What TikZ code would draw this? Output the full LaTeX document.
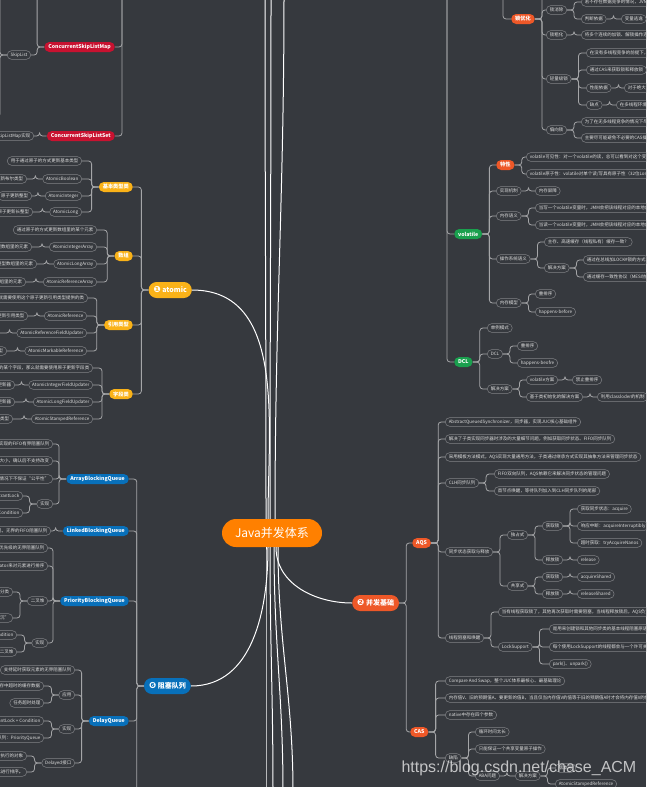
\documentclass[tikz,border=0pt]{standalone}
\usepackage{fontspec}
\setmainfont{Noto Sans CJK SC}
\newfontfamily\symfont{DejaVu Sans}
\newfontfamily\wmfont{Liberation Sans}
\usetikzlibrary{positioning}
\definecolor{bgdark}{RGB}{54,57,62}
\definecolor{linegray}{RGB}{165,166,168}
\definecolor{leafline}{RGB}{128,130,134}
\definecolor{leaftext}{RGB}{222,222,222}
\definecolor{atomicyellow}{RGB}{250,178,24}
\definecolor{queueblue}{RGB}{8,112,186}
\definecolor{basered}{RGB}{238,88,40}
\definecolor{volgreen}{RGB}{26,160,78}
\definecolor{listred}{RGB}{200,18,48}
\definecolor{rootorange}{RGB}{255,128,0}

\begin{document}
\begin{tikzpicture}[x=1pt,y=-1pt,
  leaf/.style={draw=leafline,line width=0.5pt,fill=bgdark,text=leaftext,rounded corners=4.3pt,minimum height=8.6pt,inner xsep=3.5pt,inner ysep=0pt,font=\fontsize{4.5}{5}\selectfont},
  sub/.style={fill=#1,text=white,rounded corners=5pt,minimum height=10pt,inner xsep=4pt,inner ysep=0pt,font=\fontsize{5.2}{6}\selectfont\bfseries},
  topic/.style={fill=#1,text=white,rounded corners=8pt,minimum height=16pt,inner xsep=5pt,inner ysep=0pt,font=\fontsize{7}{8}\selectfont\bfseries},
  conn/.style={draw=linegray,line width=0.8pt,rounded corners=3pt},
  trunk/.style={draw=white,line width=1pt}
]
\useasboundingbox (0,0) rectangle (646,787);
\fill[bgdark] (0,0) rectangle (646,787);
\clip (0,0) rectangle (646,787);

% centre
\node[fill=rootorange,text=white,rounded corners=14pt,minimum height=28pt,minimum width=100pt,font=\fontsize{12}{14}\selectfont] (java) at (272,533) {Java并发体系};

% main topics
\node[topic=atomicyellow,anchor=east] (atomic) at (192,290) {{\symfont\fontsize{8.5}{8}\selectfont ❶}\ atomic};
\node[topic=queueblue,anchor=east] (queue) at (191,686) {{\symfont\fontsize{8.5}{8}\selectfont ❻}\ 阻塞队列};
\node[topic=basered,anchor=west] (base) at (352,603) {{\symfont\fontsize{8.5}{8}\selectfont ❷}\ 并发基础};

% off-canvas ends
\coordinate (up1) at (265,-5);
\coordinate (up2) at (271,-5);
\coordinate (up3) at (284,-5);
\coordinate (dn1) at (266,792);
\coordinate (dn2) at (273,792);
\coordinate (dn3) at (283,792);
\coordinate (dn4) at (293,792);
\coordinate (cslmtop) at (30,-20);
\coordinate (sltop) at (-20,-20);
\coordinate (slbot) at (-20,117);
\coordinate (skiptop) at (122,-20);
\coordinate (volp) at (447,-20);
\coordinate (lockp) at (503,-20);
\coordinate (lockc) at (560,-20);
\coordinate (qbot) at (129,800);

% top left: ConcurrentSkipList*
\node[sub=listred,anchor=east] (cslm) at (115,47) {ConcurrentSkipListMap};
\node[leaf,anchor=east] (skiplist) at (31,55) {SkipList};
\node[sub=listred,anchor=east] (csls) at (115,136) {ConcurrentSkipListSet};
\node[leaf,anchor=east] (cslsimpl) at (34,136) {内部基于ConcurrentSkipListMap实现};

% atomic
\node[sub=atomicyellow,anchor=east] (basic) at (133,187) {基本类型类};
\node[sub=atomicyellow,anchor=east] (arr) at (133,256) {数组};
\node[sub=atomicyellow,anchor=east] (ref) at (133,325) {引用类型};
\node[sub=atomicyellow,anchor=east] (field) at (133,394) {字段类};

\node[leaf,anchor=east] (basic1) at (82,161) {用于通过原子的方式更新基本类型};
\node[leaf,anchor=east] (abool) at (82,179) {AtomicBoolean};
\node[leaf,anchor=east] (aint) at (82,196) {AtomicInteger};
\node[leaf,anchor=east] (along) at (82,212) {AtomicLong};
\node[leaf,anchor=east] (abool1) at (27,179) {原子更新布尔类型};
\node[leaf,anchor=east] (aint1) at (32,196) {原子更新整型};
\node[leaf,anchor=east] (along1) at (33,212) {原子更新长整型};

\node[leaf,anchor=east] (arr1) at (97,230) {通过原子的方式更新数组里的某个元素};
\node[leaf,anchor=east] (aia) at (97,247) {AtomicIntegerArray};
\node[leaf,anchor=east] (ala) at (97,264) {AtomicLongArray};
\node[leaf,anchor=east] (ara) at (97,282) {AtomicReferenceArray};
\node[leaf,anchor=east] (aia1) at (32,247) {原子更新整型数组里的元素};
\node[leaf,anchor=east] (ala1) at (37,264) {原子更新长整型数组里的元素};
\node[leaf,anchor=east] (ara1) at (26,282) {原子更新引用类型数组里的元素};

\node[leaf,anchor=east] (ref1) at (88,298) {如果要原子的更新多个变量，就需要使用这个原子更新引用类型提供的类};
\node[leaf,anchor=east] (aref) at (87,316) {AtomicReference};
\node[leaf,anchor=east] (arfu) at (87,333) {AtomicReferenceFieldUpdater};
\node[leaf,anchor=east] (amr) at (87,351) {AtomicMarkableReference};
\node[leaf,anchor=east] (aref1) at (28,316) {原子更新引用类型};
\node[leaf,anchor=east] (arfu1) at (-2,333) {原子更新引用类型里的字段};
\node[leaf,anchor=east] (amr1) at (7,351) {原子更新带有标记位的引用类型};

\node[leaf,anchor=east] (field1) at (93,368) {如果需要原子地更新某个类里的某个字段，那么就需要使用原子更新字段类};
\node[leaf,anchor=east] (aifu) at (93,385) {AtomicIntegerFieldUpdater};
\node[leaf,anchor=east] (alfu) at (93,402) {AtomicLongFieldUpdater};
\node[leaf,anchor=east] (asr) at (93,419) {AtomicStampedReference};
\node[leaf,anchor=east] (aifu1) at (15,385) {原子更新整型的字段的更新器};
\node[leaf,anchor=east] (alfu1) at (15,402) {原子更新长整型字段的更新器};
\node[leaf,anchor=east] (asr1) at (13,419) {原子更新带有版本号的引用类型};

% blocking queues
\node[sub=queueblue,anchor=east] (abq) at (129,479) {ArrayBlockingQueue};
\node[sub=queueblue,anchor=east] (lbq) at (129,531) {LinkedBlockingQueue};
\node[sub=queueblue,anchor=east] (pbq) at (129,601) {PriorityBlockingQueue};
\node[sub=queueblue,anchor=east] (dq) at (129,721) {DelayQueue};

\node[leaf,anchor=east] (abq1) at (53,444) {一个由数组实现的FIFO有界阻塞队列};
\node[leaf,anchor=east] (abq2) at (53,461) {有界且固定，在构造时确定大小，确认后不支持改变};
\node[leaf,anchor=east] (abq3) at (53,479) {支持公平锁和非公平锁，默认情况下不保证“公平性”};
\node[leaf,anchor=east] (abqimpl) at (53,504) {实现};
\node[leaf,anchor=east] (abqlock) at (23,496) {ReentrantLock};
\node[leaf,anchor=east] (abqcond) at (23,513) {Condition};
\node[leaf,anchor=east] (lbq1) at (51,531) {基于链表实现，无界的FIFO阻塞队列};
\node[leaf,anchor=east] (pbq1) at (48,548) {一个支持优先级的无界阻塞队列};
\node[leaf,anchor=east] (pbq2) at (48,566) {默认自然升序排序，也可以通过构造函数指定Comparator来对元素进行排序};
\node[leaf,anchor=east] (heap) at (48,601) {二叉堆};
\node[leaf,anchor=east] (heap1) at (13,592) {最大堆和最小堆两种分类};
\node[leaf,anchor=east] (heap2) at (13,618) {添加操作“上冒”，删除操作“下沉”};
\node[leaf,anchor=east] (pbqimpl) at (48,643) {实现};
\node[leaf,anchor=east] (pbqlock) at (17,635) {ReentrantLock + Condition};
\node[leaf,anchor=east] (pbqheap) at (17,652) {二叉堆};
\node[leaf,anchor=east] (dq1) at (75,670) {支持延时获取元素的无界阻塞队列};
\node[leaf,anchor=east] (dquse) at (75,695) {应用};
\node[leaf,anchor=east] (dquse1) at (44,686) {缓存：清掉缓存中超时的缓存数据};
\node[leaf,anchor=east] (dquse2) at (44,703) {任务超时处理};
\node[leaf,anchor=east] (dqimpl) at (75,729) {实现};
\node[leaf,anchor=east] (dqlock) at (44,721) {ReentrantLock + Condition};
\node[leaf,anchor=east] (dqpq) at (44,738) {根据Delay时间排序的优先级队列：PriorityQueue};
\node[leaf,anchor=east] (dqif) at (75,763) {Delayed接口};
\node[leaf,anchor=east] (dqif1) at (27,756) {用来标记那些应该在给定延迟时间之后执行的对象};
\node[leaf,anchor=east] (dqif2) at (27,772) {该接口要求实现compareTo方法，以此进行排序。};

% lock optimisation (top right)
\node[sub=basered,anchor=west] (lockopt) at (511,19) {锁优化};
\node[leaf,anchor=west] (elim) at (546,10) {锁消除};
\node[leaf,anchor=west] (elim1) at (581,2) {若不存在数据竞争的情况，JVM会消除锁机制};
\node[leaf,anchor=west] (elim2) at (581,19) {判断依据};
\node[leaf,anchor=west] (elim3) at (621,19) {变量逃逸};
\node[leaf,anchor=west] (coarse) at (546,35) {锁粗化};
\node[leaf,anchor=west] (coarse1) at (581,35) {将多个连续的加锁、解锁操作连接在一起，扩展成一个范围更大的锁};
\node[leaf,anchor=west] (light) at (546,79) {轻量级锁};
\node[leaf,anchor=west] (light1) at (586,53) {在没有多线程竞争的前提下，减少传统的重量级锁使用操作系统互斥量产生的性能消耗};
\node[leaf,anchor=west] (light2) at (586,70) {通过CAS来获取锁和释放锁};
\node[leaf,anchor=west] (light3) at (586,88) {性能依据};
\node[leaf,anchor=west] (light4) at (624,88) {对于绝大部分的锁，在整个生命周期内都是不会存在竞争的};
\node[leaf,anchor=west] (light5) at (586,105) {缺点};
\node[leaf,anchor=west] (light6) at (616,105) {在多线程环境下，其运行效率比重量级锁还会慢};
\node[leaf,anchor=west] (bias) at (546,130) {偏向锁};
\node[leaf,anchor=west] (bias1) at (581,122) {为了在无多线程竞争的情况下尽量减少不必要的轻量级锁执行路径};
\node[leaf,anchor=west] (bias2) at (581,138) {主要尽可能避免不必要的CAS操作，如果竞争锁失败，则升级为轻量级锁};

% volatile
\node[sub=volgreen,anchor=west] (vol) at (454,234) {volatile};
\node[sub=basered,anchor=west] (vfeat) at (496,165) {特性};
\node[leaf,anchor=west] (vfeat1) at (526,157) {volatile可见性：对一个volatile的读，总可以看到对这个变量最终的写};
\node[leaf,anchor=west] (vfeat2) at (526,174) {volatile原子性：volatile对单个读/写具有原子性（32位Long、Double），但是复合操作除外，例如i++};
\node[leaf,anchor=west] (vmech) at (496,191) {实现机制};
\node[leaf,anchor=west] (vmech1) at (535,191) {内存屏障};
\node[leaf,anchor=west] (vsem) at (496,216) {内存语义};
\node[leaf,anchor=west] (vsem1) at (535,208) {当写一个volatile变量时，JMM会把该线程对应的本地内存中的共享变量值立即刷新到主内存中};
\node[leaf,anchor=west] (vsem2) at (535,225) {当读一个volatile变量时，JMM会把该线程对应的本地内存设置为无效，直接从主内存中读取共享变量};
\node[leaf,anchor=west] (vos) at (496,259) {操作系统语义};
\node[leaf,anchor=west] (vos1) at (544,242) {主存、高速缓存（线程私有）缓存一致？};
\node[leaf,anchor=west] (vos2) at (544,268) {解决方案};
\node[leaf,anchor=west] (vos3) at (583,260) {通过在总线加LOCK\#锁的方式};
\node[leaf,anchor=west] (vos4) at (583,277) {通过缓存一致性协议（MESI协议）};
\node[leaf,anchor=west] (vmod) at (496,303) {内存模型};
\node[leaf,anchor=west] (vmod1) at (535,294) {重排序};
\node[leaf,anchor=west] (vmod2) at (535,312) {happens-before};

% DCL
\node[sub=volgreen,anchor=west] (dcl) at (454,362) {DCL};
\node[leaf,anchor=west] (dcl1) at (487,328) {单例模式};
\node[leaf,anchor=west] (dcl2) at (487,354) {DCL};
\node[leaf,anchor=west] (dcl3) at (517,346) {重排序};
\node[leaf,anchor=west] (dcl4) at (517,363) {happens-beofre};
\node[leaf,anchor=west] (dcl5) at (487,389) {解决方案};
\node[leaf,anchor=west] (dcl6) at (526,380) {volatile方案};
\node[leaf,anchor=west] (dcl7) at (572,380) {禁止重排序};
\node[leaf,anchor=west] (dcl8) at (526,397) {基于类初始化的解决方案};
\node[leaf,anchor=west] (dcl9) at (597,397) {利用classloder的机制};

% AQS
\node[sub=basered,anchor=west] (aqs) at (412,543) {AQS};
\node[leaf,anchor=west] (aqs1) at (445,422) {AbstractQueuedSynchronizer，同步器，实现JUC核心基础组件};
\node[leaf,anchor=west] (aqs2) at (445,439) {解决了子类实现同步器时涉及的大量细节问题，例如获取同步状态、FIFO同步队列};
\node[leaf,anchor=west] (aqs3) at (445,457) {采用模板方法模式，AQS实现大量通用方法，子类通过继承方式实现其抽象方法来管理同步状态};
\node[leaf,anchor=west] (clh) at (445,483) {CLH同步队列};
\node[leaf,anchor=west] (clh1) at (494,474) {FIFO双向队列，AQS依赖它来解决同步状态的管理问题};
\node[leaf,anchor=west] (clh2) at (494,491) {首节点唤醒，等待队列加入到CLH同步队列的尾部};
\node[leaf,anchor=west] (sync) at (445,552) {同步状态获取与释放};
\node[leaf,anchor=west] (excl) at (507,535) {独占式};
\node[leaf,anchor=west] (exget) at (542,526) {获取锁};
\node[leaf,anchor=west] (exget1) at (577,509) {获取同步状态：acquire};
\node[leaf,anchor=west] (exget2) at (577,526) {响应中断：acquireInterruptibly};
\node[leaf,anchor=west] (exget3) at (577,543) {超时获取：tryAcquireNanos};
\node[leaf,anchor=west] (exrel) at (542,560) {释放锁};
\node[leaf,anchor=west] (exrel1) at (577,560) {release};
\node[leaf,anchor=west] (shar) at (507,586) {共享式};
\node[leaf,anchor=west] (shget) at (542,577) {获取锁};
\node[leaf,anchor=west] (shget1) at (577,577) {acquireShared};
\node[leaf,anchor=west] (shrel) at (542,594) {释放锁};
\node[leaf,anchor=west] (shrel1) at (577,594) {releaseShared};
\node[leaf,anchor=west] (block) at (445,638) {线程阻塞和唤醒};
\node[leaf,anchor=west] (block1) at (498,612) {当有线程获取锁了，其他再次获取时需要阻塞，当线程释放锁后，AQS负责唤醒线程};
\node[leaf,anchor=west] (lsup) at (498,647) {LockSupport};
\node[leaf,anchor=west] (lsup1) at (549,629) {是用来创建锁和其他同步类的基本线程阻塞原语};
\node[leaf,anchor=west] (lsup2) at (549,647) {每个使用LockSupport的线程都会与一个许可关联};
\node[leaf,anchor=west] (lsup3) at (549,664) {park()、unpark()};

% CAS
\node[sub=basered,anchor=west] (cas) at (410,732) {CAS};
\node[leaf,anchor=west] (cas1) at (445,681) {Compare And Swap，整个JUC体系最核心、最基础理论};
\node[leaf,anchor=west] (cas2) at (445,698) {内存值V、旧的预期值A、要更新的值B，当且仅当内存值V的值等于旧的预期值A时才会将内存值V的值修改为B，否则什么都不干};
\node[leaf,anchor=west] (cas3) at (445,715) {native中存在四个参数};
\node[leaf,anchor=west] (flaw) at (445,758) {缺陷};
\node[leaf,anchor=west] (flaw1) at (475,732) {循环时间太长};
\node[leaf,anchor=west] (flaw2) at (475,749) {只能保证一个共享变量原子操作};
\node[leaf,anchor=west] (aba) at (475,776) {ABA问题};
\node[leaf,anchor=west] (aba1) at (515,776) {解决方案};
\node[leaf,anchor=west] (aba2) at (555,768) {版本号};
\node[leaf,anchor=west] (aba3) at (555,784) {AtomicStampedReference};

% trunks from the centre
\draw[trunk] ([xshift=-4pt]java.north) to[out=90,in=0] (atomic.east);
\draw[trunk] ([xshift=-4pt]java.south) to[out=-90,in=0] (queue.east);
\draw[trunk] ([xshift=4pt]java.south) to[out=-90,in=180] (base.west);
\foreach \u/\dx in {up1/-6,up2/-2,up3/3}
  \draw[trunk] ([xshift=\dx pt]java.north) to[out=90,in=-90] (\u);
\foreach \u/\dx in {dn1/-6,dn2/-2,dn3/2,dn4/6}
  \draw[trunk] ([xshift=\dx pt]java.south) to[out=-90,in=90] (\u);

% connectors, left side
\foreach \p/\c in {cslm/skiplist,csls/cslsimpl,
  atomic/basic,atomic/arr,atomic/ref,atomic/field,
  basic/basic1,basic/abool,basic/aint,basic/along,abool/abool1,aint/aint1,along/along1,
  arr/arr1,arr/aia,arr/ala,arr/ara,aia/aia1,ala/ala1,ara/ara1,
  ref/ref1,ref/aref,ref/arfu,ref/amr,aref/aref1,arfu/arfu1,amr/amr1,
  field/field1,field/aifu,field/alfu,field/asr,aifu/aifu1,alfu/alfu1,asr/asr1,
  queue/abq,queue/lbq,queue/pbq,queue/dq,
  abq/abq1,abq/abq2,abq/abq3,abq/abqimpl,abqimpl/abqlock,abqimpl/abqcond,lbq/lbq1,
  pbq/pbq1,pbq/pbq2,pbq/heap,pbq/pbqimpl,heap/heap1,heap/heap2,pbqimpl/pbqlock,pbqimpl/pbqheap,
  dq/dq1,dq/dquse,dq/dqimpl,dq/dqif,dquse/dquse1,dquse/dquse2,dqimpl/dqlock,dqimpl/dqpq,dqif/dqif1,dqif/dqif2}
  \draw[conn] (\p.west) -- ++(-7,0) |- (\c.east);
\draw[conn] (cslm.west) -- ++(-7,0) |- (cslmtop);
\draw[conn] (skiplist.west) -- ++(-7,0) |- (sltop);
\draw[conn] (skiplist.west) -- ++(-7,0) |- (slbot);
\draw[conn] (queue.west) -- ++(-7,0) |- (qbot);
\draw[conn] (skiptop) |- (cslm.east);
\draw[conn] (skiptop) |- (csls.east);

% connectors, right side
\foreach \p/\c in {lockopt/elim,lockopt/coarse,lockopt/light,lockopt/bias,
  elim/elim1,elim/elim2,elim2/elim3,coarse/coarse1,
  light/light1,light/light2,light/light3,light/light5,light3/light4,light5/light6,bias/bias1,bias/bias2,
  vol/vfeat,vol/vmech,vol/vsem,vol/vos,vol/vmod,vfeat/vfeat1,vfeat/vfeat2,vmech/vmech1,
  vsem/vsem1,vsem/vsem2,vos/vos1,vos/vos2,vos2/vos3,vos2/vos4,vmod/vmod1,vmod/vmod2,
  dcl/dcl1,dcl/dcl2,dcl/dcl5,dcl2/dcl3,dcl2/dcl4,dcl5/dcl6,dcl5/dcl8,dcl6/dcl7,dcl8/dcl9,
  base/aqs,base/cas,
  aqs/aqs1,aqs/aqs2,aqs/aqs3,aqs/clh,aqs/sync,aqs/block,clh/clh1,clh/clh2,
  sync/excl,sync/shar,excl/exget,excl/exrel,exget/exget1,exget/exget2,exget/exget3,exrel/exrel1,
  shar/shget,shar/shrel,shget/shget1,shrel/shrel1,
  block/block1,block/lsup,lsup/lsup1,lsup/lsup2,lsup/lsup3,
  cas/cas1,cas/cas2,cas/cas3,cas/flaw,flaw/flaw1,flaw/flaw2,flaw/aba,aba/aba1,aba1/aba2,aba1/aba3}
  \draw[conn] (\p.east) -- ++(7,0) |- (\c.west);
\draw[conn] (lockopt.east) -- ++(7,0) |- (lockc);
\draw[conn] (lockp) |- (lockopt.west);
\draw[conn] (volp) |- (vol.west);
\draw[conn] (volp) |- (dcl.west);

% watermark
\node[font=\wmfont\fontsize{16}{16}\selectfont,text=white,opacity=0.7,anchor=west] (mark) at (398,768) {https://blog.csdn.net/chase\_ACM};
\end{tikzpicture}
\end{document}
